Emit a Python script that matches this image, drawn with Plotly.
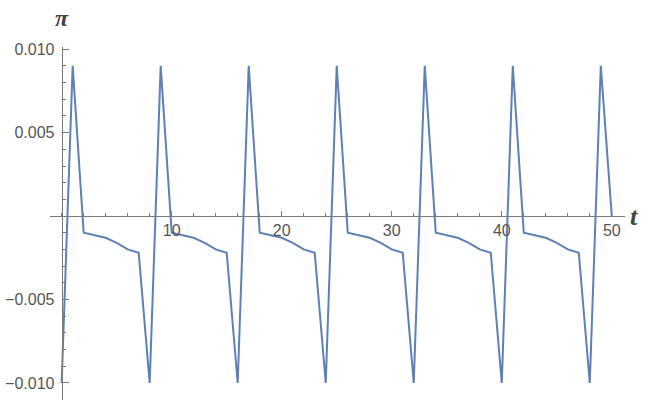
import plotly.graph_objects as go

# time steps and values
t = list(range(51))
pi_vals = [
    -0.010, 0.009, -0.0010, -0.00115, -0.0013, -0.0016, -0.0020, -0.0022,
    -0.010, 0.009, -0.0010, -0.00115, -0.0013, -0.0016, -0.0020, -0.0022,
    -0.010, 0.009, -0.0010, -0.00115, -0.0013, -0.0016, -0.0020, -0.0022,
    -0.010, 0.009, -0.0010, -0.00115, -0.0013, -0.0016, -0.0020, -0.0022,
    -0.010, 0.009, -0.0010, -0.00115, -0.0013, -0.0016, -0.0020, -0.0022,
    -0.010, 0.009, -0.0010, -0.00115, -0.0013, -0.0016, -0.0020, -0.0022,
    -0.010, 0.009, 0.0,
]

x_ticks = [10, 20, 30, 40, 50]
x_labels = ["10", "20", "30", "40", "50"]
y_ticks = [0.010, 0.005, -0.005, -0.010]
y_labels = ["0.010", "0.005", "\u22120.005", "\u22120.010"]

x_range = [-1.06, 51.2]
y_range = [-0.01102, 0.01013]

axis_color = "#7a7a7a"
label_font = dict(family="Liberation Sans, Arial, sans-serif", size=16, color="#555555")

fig = go.Figure()
fig.add_trace(go.Scatter(
    x=t, y=pi_vals, mode="lines",
    line=dict(color="rgb(94,129,181)", width=2),
    hoverinfo="skip", showlegend=False
))

# axes cross at the origin like Mathematica's Plot
x_pos = (0 - y_range[0]) / (y_range[1] - y_range[0])
y_pos = (0 - x_range[0]) / (x_range[1] - x_range[0])

fig.update_layout(
    width=649, height=403,
    margin=dict(l=50, r=24, t=47, b=3),
    paper_bgcolor="white", plot_bgcolor="white",
    xaxis=dict(
        range=x_range, anchor="free", position=x_pos, automargin=False,
        showgrid=False, zeroline=False,
        showline=True, linecolor=axis_color, linewidth=1,
        tickmode="array", tickvals=x_ticks, ticktext=x_labels,
        ticks="inside", ticklen=5, tickcolor=axis_color, tickwidth=1,
        tickfont=label_font, ticklabelstandoff=0,
        minor=dict(tickmode="linear", tick0=0, dtick=2, ticks="inside",
                   ticklen=3, tickcolor=axis_color, tickwidth=1),
    ),
    yaxis=dict(
        range=y_range, anchor="free", position=y_pos, automargin=False,
        showgrid=False, zeroline=False,
        showline=True, linecolor=axis_color, linewidth=1,
        tickmode="array", tickvals=y_ticks, ticktext=y_labels,
        ticks="inside", ticklen=6, tickcolor=axis_color, tickwidth=1,
        tickfont=label_font, ticklabelstandoff=4,
        minor=dict(tickmode="linear", tick0=0, dtick=0.001, ticks="inside",
                   ticklen=3.5, tickcolor=axis_color, tickwidth=1),
    ),
    annotations=[
        dict(text="<b><i>\u03c0</i></b>", x=y_pos, y=1.0, xref="paper", yref="paper",
             xanchor="center", yanchor="bottom", yshift=14, showarrow=False,
             font=dict(family="Liberation Serif, serif", size=24, color="#444444")),
        dict(text="<b><i>t</i></b>", x=1.0, y=x_pos, xref="paper", yref="paper",
             xanchor="left", yanchor="middle", xshift=3, showarrow=False,
             font=dict(family="Liberation Serif, serif", size=26, color="#444444")),
    ],
)

# drop the page's default body margin so the figure sits at the window corner
fig.write_html("out.html", config={"displayModeBar": False},
               post_script="document.body.style.margin='0';")
